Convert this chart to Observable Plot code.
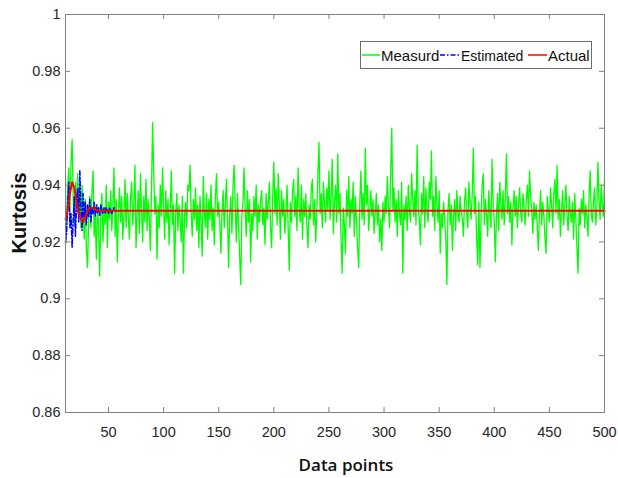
<!DOCTYPE html>
<html><head><meta charset="utf-8">
<script src="https://cdn.jsdelivr.net/npm/d3@7"></script>
<script src="https://cdn.jsdelivr.net/npm/@observablehq/plot@0.6"></script>
<style>body{margin:0;background:#fff} #chart{position:relative;width:618px;height:478px}</style>
</head><body><div id="chart"></div>
<script>
const xStart = 11;
const measured = [
0.919,0.927,0.940,0.946,0.930,0.948,0.956,0.935,0.926,0.941,
0.932,0.944,0.929,0.937,0.925,0.940,0.930,0.921,0.935,0.917,
0.911,0.928,0.936,0.925,0.938,0.945,0.922,0.930,0.914,0.933,
0.925,0.908,0.929,0.937,0.920,0.932,0.926,0.940,0.918,0.934,
0.928,0.938,0.924,0.933,0.946,0.922,0.935,0.913,0.930,0.939,
0.927,0.936,0.921,0.930,0.942,0.925,0.937,0.929,0.921,0.935,
0.941,0.926,0.933,0.947,0.918,0.930,0.938,0.923,0.944,0.931,
0.920,0.936,0.927,0.942,0.924,0.935,0.929,0.917,0.938,0.962,
0.945,0.930,0.936,0.914,0.933,0.925,0.940,0.929,0.946,0.932,
0.921,0.938,0.927,0.935,0.919,0.931,0.945,0.926,0.933,0.909,
0.930,0.937,0.924,0.933,0.928,0.920,0.936,0.909,0.929,0.934,
0.925,0.940,0.938,0.947,0.930,0.922,0.935,0.928,0.939,0.924,
0.933,0.918,0.936,0.927,0.915,0.943,0.930,0.925,0.937,0.921,
0.935,0.928,0.940,0.924,0.932,0.919,0.936,0.944,0.929,0.934,
0.926,0.916,0.931,0.938,0.925,0.933,0.942,0.928,0.911,0.930,
0.936,0.923,0.940,0.947,0.932,0.920,0.937,0.926,0.915,0.905,
0.929,0.934,0.946,0.931,0.922,0.938,0.927,0.935,0.913,0.930,
0.924,0.936,0.929,0.940,0.921,0.933,0.927,0.935,0.938,0.926,
0.932,0.919,0.937,0.928,0.934,0.941,0.925,0.918,0.936,0.948,
0.930,0.939,0.926,0.944,0.933,0.921,0.938,0.929,0.935,0.923,
0.931,0.940,0.925,0.910,0.934,0.927,0.938,0.942,0.929,0.936,
0.924,0.946,0.932,0.927,0.940,0.921,0.935,0.929,0.937,0.925,
0.918,0.933,0.928,0.939,0.942,0.926,0.935,0.920,0.931,0.944,
0.955,0.930,0.937,0.925,0.941,0.933,0.927,0.939,0.931,0.945,
0.928,0.936,0.949,0.923,0.934,0.940,0.927,0.951,0.930,0.937,
0.921,0.909,0.932,0.926,0.916,0.938,0.929,0.943,0.925,0.935,
0.930,0.941,0.922,0.936,0.927,0.918,0.911,0.934,0.945,0.928,
0.937,0.926,0.953,0.933,0.940,0.924,0.931,0.938,0.929,0.935,
0.923,0.930,0.937,0.926,0.933,0.920,0.928,0.917,0.934,0.927,
0.936,0.930,0.943,0.932,0.925,0.944,0.960,0.931,0.939,0.927,
0.935,0.922,0.938,0.930,0.926,0.941,0.909,0.933,0.928,0.936,
0.924,0.940,0.931,0.927,0.944,0.935,0.929,0.938,0.926,0.954,
0.932,0.928,0.919,0.937,0.930,0.943,0.925,0.939,0.931,0.927,
0.941,0.935,0.952,0.929,0.936,0.924,0.943,0.933,0.927,0.938,
0.916,0.930,0.925,0.934,0.928,0.921,0.905,0.931,0.937,0.926,
0.933,0.917,0.929,0.935,0.924,0.938,0.930,0.927,0.936,0.931,
0.928,0.922,0.934,0.939,0.930,0.925,0.941,0.933,0.928,0.937,
0.953,0.930,0.936,0.921,0.912,0.934,0.911,0.928,0.940,0.944,
0.926,0.935,0.930,0.922,0.938,0.931,0.925,0.949,0.933,0.927,
0.913,0.930,0.937,0.924,0.941,0.933,0.928,0.938,0.926,0.935,
0.951,0.930,0.936,0.927,0.934,0.919,0.932,0.938,0.929,0.936,
0.925,0.933,0.939,0.930,0.927,0.937,0.932,0.926,0.935,0.940,
0.929,0.945,0.936,0.931,0.923,0.934,0.928,0.933,0.925,0.917,
0.930,0.938,0.926,0.934,0.929,0.921,0.916,0.936,0.931,0.927,
0.939,0.933,0.925,0.937,0.942,0.930,0.947,0.928,0.935,0.922,
0.931,0.938,0.926,0.933,0.940,0.929,0.924,0.936,0.930,0.927,
0.934,0.921,0.937,0.928,0.918,0.909,0.932,0.926,0.935,0.930,
0.938,0.925,0.933,0.929,0.922,0.936,0.945,0.930,0.927,0.934,
0.939,0.926,0.931,0.948,0.935,0.928,0.940,0.933,0.929,0.942
];
const estimated = [
0.920,0.923,0.934,0.941,0.925,0.930,0.918,0.928,0.936,0.922,
0.933,0.939,0.927,0.945,0.932,0.924,0.937,0.928,0.934,0.926,
0.933,0.929,0.935,0.927,0.932,0.930,0.934,0.929,0.933,0.930,
0.932,0.929,0.933,0.931,0.930,0.932,0.930,0.932,0.931,0.930,
0.932,0.931,0.930,0.931,0.932,0.931,0.931,0.931,0.931,0.931
];
const actualX = [11,13,15,17,19,21,23,25,27,29,31,33,35,37,39,41,500];
const actualY = [0.928,0.931,0.937,0.941,0.939,0.934,0.930,0.928,0.927,0.929,0.931,0.932,0.932,0.932,0.931,0.931,0.931];
const xTicks = [50,100,150,200,250,300,350,400,450,500];
const yTicks = [0.86,0.88,0.9,0.92,0.94,0.96,0.98,1];
const yTickLabels = ["0.86","0.88","0.9","0.92","0.94","0.96","0.98","1"];
const legendLabels = ["Measurd","Estimated","Actual"];
const legendColors = ["#00ff00","#0000ff","#ff0000"];
const xLabel = "Data points";
const yLabel = "Kurtosis";

const measuredData = measured.map((v,i)=>({x:xStart+i,y:v}));
const estimatedData = estimated.map((v,i)=>({x:xStart+i,y:v}));
const actualData = actualX.map((x,i)=>({x,y:actualY[i]}));

const W=618,H=478,mL=65,mR=14,mT=14,mB=66;
const pW=W-mL-mR, pH=H-mT-mB;
const axisGray="#808080";
const sans='"Liberation Sans",Arial,Helvetica,sans-serif';

const plot = Plot.plot({
  width:W,height:H,marginLeft:mL,marginRight:mR,marginTop:mT,marginBottom:mB,
  x:{domain:[11,500]}, y:{domain:[0.86,1]},
  style:{fontFamily:sans,fontSize:"14.5px",color:"#262626",background:"#fff"},
  marks:[
    Plot.line(measuredData,{x:"x",y:"y",stroke:"#00ff00",strokeWidth:1.3}),
    Plot.line(estimatedData,{x:"x",y:"y",stroke:"#0000ff",strokeWidth:1.5,strokeDasharray:"5,2,1.5,2"}),
    Plot.line(actualData,{x:"x",y:"y",stroke:"#ff0000",strokeWidth:2}),
    Plot.frame({stroke:axisGray}),
    Plot.tickX(xTicks,{x:d=>d,stroke:axisGray,insetTop:pH-5}),
    Plot.tickX(xTicks,{x:d=>d,stroke:axisGray,insetBottom:pH-5}),
    Plot.tickY(yTicks,{y:d=>d,stroke:axisGray,insetRight:pW-5}),
    Plot.tickY(yTicks,{y:d=>d,stroke:axisGray,insetLeft:pW-5}),
    Plot.axisX({ticks:xTicks,tickSize:0,tickPadding:14,label:null}),
    Plot.axisY({ticks:yTicks,tickSize:0,tickPadding:5,label:null,tickFormat:d=>yTickLabels[yTicks.indexOf(d)]})
  ]
});
document.getElementById("chart").appendChild(plot);
const svg = d3.select(plot);
svg.append("text").attr("x",346).attr("y",471).attr("text-anchor","middle")
  .attr("font-family",'"Open Sans",sans-serif').attr("font-weight",600).attr("font-size",17)
  .attr("fill","#111").text(xLabel);
svg.append("text").attr("transform","translate(26,213) rotate(-90)").attr("text-anchor","middle")
  .attr("font-family",sans).attr("font-weight","bold").attr("font-size",20)
  .attr("fill","#111").text(yLabel);
const lg = svg.append("g");
lg.append("rect").attr("x",360.5).attr("y",41.5).attr("width",231).attr("height",27)
  .attr("fill","#fff").attr("stroke","#6e6e6e");
const items=[{x1:362,x2:380,tx:381,dash:null},{x1:440,x2:460,tx:461,dash:"5,2,1.5,2"},{x1:528,x2:547,tx:548,dash:null}];
items.forEach((it,i)=>{
  lg.append("line").attr("x1",it.x1).attr("x2",it.x2).attr("y1",55).attr("y2",55)
    .attr("stroke",legendColors[i]).attr("stroke-width",1.5).attr("stroke-dasharray",it.dash);
  lg.append("text").attr("x",it.tx).attr("y",60.5).attr("text-anchor","start")
    .attr("font-family",sans).attr("font-size",i===1?14:15)
    .attr("fill","#111").text(legendLabels[i]);
});
</script></body></html>
